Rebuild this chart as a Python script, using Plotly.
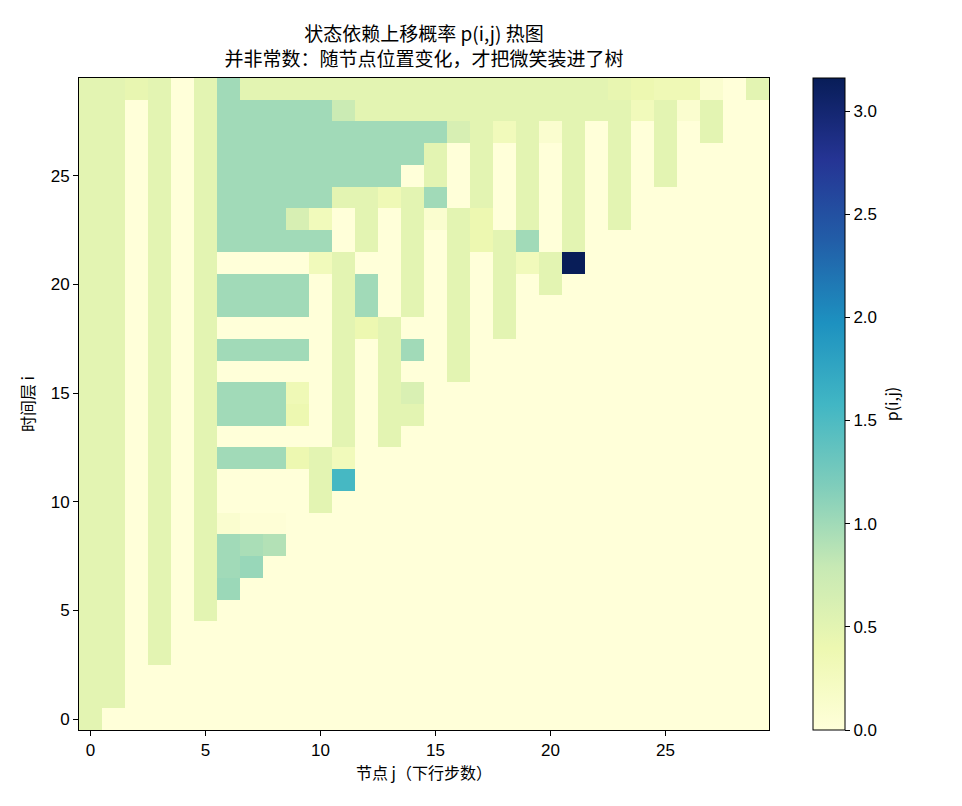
import plotly.graph_objects as go

# column (node j) and row (time layer i) indices
nodes_j = list(range(30))
layers_i = list(range(30))

# p(i,j) values, one list per time layer i (index = node j)
r00 = [.5, 0, 0, 0, 0, 0, 0, 0, 0, 0, 0, 0, 0, 0, 0, 0, 0, 0, 0, 0, 0, 0, 0, 0, 0, 0, 0, 0, 0, 0]
r01 = [.5, .5, 0, 0, 0, 0, 0, 0, 0, 0, 0, 0, 0, 0, 0, 0, 0, 0, 0, 0, 0, 0, 0, 0, 0, 0, 0, 0, 0, 0]
r02 = [.5, .5, 0, 0, 0, 0, 0, 0, 0, 0, 0, 0, 0, 0, 0, 0, 0, 0, 0, 0, 0, 0, 0, 0, 0, 0, 0, 0, 0, 0]
r03 = [.5, .5, 0, .5, 0, 0, 0, 0, 0, 0, 0, 0, 0, 0, 0, 0, 0, 0, 0, 0, 0, 0, 0, 0, 0, 0, 0, 0, 0, 0]
r04 = [.5, .5, 0, .5, 0, 0, 0, 0, 0, 0, 0, 0, 0, 0, 0, 0, 0, 0, 0, 0, 0, 0, 0, 0, 0, 0, 0, 0, 0, 0]
r05 = [.5, .5, 0, .5, 0, .5, 0, 0, 0, 0, 0, 0, 0, 0, 0, 0, 0, 0, 0, 0, 0, 0, 0, 0, 0, 0, 0, 0, 0, 0]
r06 = [.5, .5, 0, .5, 0, .5, 1.03, 0, 0, 0, 0, 0, 0, 0, 0, 0, 0, 0, 0, 0, 0, 0, 0, 0, 0, 0, 0, 0, 0, 0]
r07 = [.5, .5, 0, .5, 0, .5, 1.0, 1.05, 0, 0, 0, 0, 0, 0, 0, 0, 0, 0, 0, 0, 0, 0, 0, 0, 0, 0, 0, 0, 0, 0]
r08 = [.5, .5, 0, .5, 0, .5, 1.0, .95, .9, 0, 0, 0, 0, 0, 0, 0, 0, 0, 0, 0, 0, 0, 0, 0, 0, 0, 0, 0, 0, 0]
r09 = [.5, .5, 0, .5, 0, .5, .1, .03, .03, 0, 0, 0, 0, 0, 0, 0, 0, 0, 0, 0, 0, 0, 0, 0, 0, 0, 0, 0, 0, 0]
r10 = [.5, .5, 0, .5, 0, .5, 0, 0, 0, 0, .5, 0, 0, 0, 0, 0, 0, 0, 0, 0, 0, 0, 0, 0, 0, 0, 0, 0, 0, 0]
r11 = [.5, .5, 0, .5, 0, .5, 0, 0, 0, 0, .5, 1.55, 0, 0, 0, 0, 0, 0, 0, 0, 0, 0, 0, 0, 0, 0, 0, 0, 0, 0]
r12 = [.5, .5, 0, .5, 0, .5, 1, 1, 1, .4, .5, .3, 0, 0, 0, 0, 0, 0, 0, 0, 0, 0, 0, 0, 0, 0, 0, 0, 0, 0]
r13 = [.5, .5, 0, .5, 0, .5, 0, 0, 0, 0, 0, .5, 0, .5, 0, 0, 0, 0, 0, 0, 0, 0, 0, 0, 0, 0, 0, 0, 0, 0]
r14 = [.5, .5, 0, .5, 0, .5, 1, 1, 1, .4, 0, .5, 0, .5, .5, 0, 0, 0, 0, 0, 0, 0, 0, 0, 0, 0, 0, 0, 0, 0]
r15 = [.5, .5, 0, .5, 0, .5, 1, 1, 1, .35, 0, .5, 0, .5, .6, 0, 0, 0, 0, 0, 0, 0, 0, 0, 0, 0, 0, 0, 0, 0]
r16 = [.5, .5, 0, .5, 0, .5, 0, 0, 0, 0, 0, .5, 0, .5, 0, 0, .5, 0, 0, 0, 0, 0, 0, 0, 0, 0, 0, 0, 0, 0]
r17 = [.5, .5, 0, .5, 0, .5, 1, 1, 1, 1, 0, .5, 0, .5, 1, 0, .5, 0, 0, 0, 0, 0, 0, 0, 0, 0, 0, 0, 0, 0]
r18 = [.5, .5, 0, .5, 0, .5, 0, 0, 0, 0, 0, .5, .4, .5, 0, 0, .5, 0, .5, 0, 0, 0, 0, 0, 0, 0, 0, 0, 0, 0]
r19 = [.5, .5, 0, .5, 0, .5, 1, 1, 1, 1, 0, .5, 1, 0, .5, 0, .5, 0, .5, 0, 0, 0, 0, 0, 0, 0, 0, 0, 0, 0]
r20 = [.5, .5, 0, .5, 0, .5, 1, 1, 1, 1, 0, .5, 1, 0, .5, 0, .5, 0, .5, 0, .5, 0, 0, 0, 0, 0, 0, 0, 0, 0]
r21 = [.5, .5, 0, .5, 0, .5, 0, 0, 0, 0, .3, .5, 0, 0, .5, 0, .5, 0, .5, .3, .5, 3.16, 0, 0, 0, 0, 0, 0, 0, 0]
r22 = [.5, .5, 0, .5, 0, .5, 1, 1, 1, 1, 1, 0, .5, 0, .5, 0, .5, .4, .5, 1, 0, .5, 0, 0, 0, 0, 0, 0, 0, 0]
r23 = [.5, .5, 0, .5, 0, .5, 1, 1, 1, .62, .3, 0, .5, 0, .5, .1, .5, .4, 0, .5, 0, .5, 0, .5, 0, 0, 0, 0, 0, 0]
r24 = [.5, .5, 0, .5, 0, .5, 1, 1, 1, 1, 1, .5, .5, .35, .5, 1, 0, .5, 0, .5, 0, .5, 0, .5, 0, 0, 0, 0, 0, 0]
r25 = [.5, .5, 0, .5, 0, .5, 1, 1, 1, 1, 1, 1, 1, 1, 0, .5, 0, .5, 0, .5, 0, .5, 0, .5, 0, .5, 0, 0, 0, 0]
r26 = [.5, .5, 0, .5, 0, .5, 1, 1, 1, 1, 1, 1, 1, 1, 1, .5, 0, .5, 0, .5, 0, .5, 0, .5, 0, .5, 0, 0, 0, 0]
r27 = [.5, .5, 0, .5, 0, .5, 1, 1, 1, 1, 1, 1, 1, 1, 1, 1, .62, .5, .3, .5, .1, .5, 0, .5, 0, .5, 0, .5, 0, 0]
r28 = [.5, .5, 0, .5, 0, .5, 1, 1, 1, 1, 1, .75, .5, .5, .5, .5, .5, .5, .5, .5, .5, .5, .5, .5, .3, .5, .1, .5, 0, 0]
r29 = [.5, .5, .45, .5, 0, .5, 1, .5, .5, .5, .5, .5, .5, .5, .5, .5, .5, .5, .5, .5, .5, .5, .5, .45, .4, .35, .35, .1, 0, .5]

x_ticks = [0, 5, 10, 15, 20, 25]
y_ticks = [0, 5, 10, 15, 20, 25]
cbar_ticks = [0.0, 0.5, 1.0, 1.5, 2.0, 2.5, 3.0]

z = [r00, r01, r02, r03, r04, r05, r06, r07, r08, r09,
     r10, r11, r12, r13, r14, r15, r16, r17, r18, r19,
     r20, r21, r22, r23, r24, r25, r26, r27, r28, r29]

ylgnbu = [
    [0.0, "rgb(255,255,217)"], [0.125, "rgb(237,248,177)"], [0.25, "rgb(199,233,180)"],
    [0.375, "rgb(127,205,187)"], [0.5, "rgb(65,182,196)"], [0.625, "rgb(29,145,192)"],
    [0.75, "rgb(34,94,168)"], [0.875, "rgb(37,52,148)"], [1.0, "rgb(8,29,88)"],
]

FONT = "Noto Sans CJK SC, Liberation Sans, sans-serif"
TICKFONT = "Liberation Sans, Noto Sans CJK SC, sans-serif"

fig = go.Figure(go.Heatmap(
    x=nodes_j, y=layers_i, z=z,
    colorscale=ylgnbu, zmin=0, zmax=max(max(r) for r in z),
    xgap=0, ygap=0,
    colorbar=dict(
        x=(813 - 79) / 690, xanchor="left", xref="paper", xpad=0,
        y=0.5, yanchor="middle", len=1.0, lenmode="fraction", ypad=0,
        thickness=32, thicknessmode="pixels",
        outlinecolor="black", outlinewidth=1,
        tickvals=cbar_ticks, tickformat=".1f",
        ticks="outside", ticklen=5, tickcolor="black",
        tickfont=dict(size=17, color="black", family=TICKFONT),
        title=dict(text="p(i,j)", side="right", font=dict(size=16, color="black", family=FONT)),
    ),
))

fig.update_layout(
    width=962, height=806,
    margin=dict(l=79, r=193, t=78, b=76),
    paper_bgcolor="white", plot_bgcolor="white",
    font=dict(family=FONT, color="black", size=16),
    title=dict(
        text="状态依赖上移概率 p(i,j) 热图<br>并非常数：随节点位置变化，才把微笑装进了树",
        x=0.5, xref="paper", xanchor="center",
        y=1 - 41 / 806, yref="container", yanchor="top",
        font=dict(size=19, family=FONT, color="black"),
    ),
    xaxis=dict(
        range=[-0.5, 29.5], tickvals=x_ticks, ticks="outside", ticklen=5,
        tickcolor="black", showline=True, linecolor="black", linewidth=1,
        mirror=True, showgrid=False, zeroline=False,
        tickfont=dict(size=17, family=TICKFONT),
        title=dict(text="节点 j（下行步数）", font=dict(size=16), standoff=8),
    ),
    yaxis=dict(
        range=[-0.5, 29.5], tickvals=y_ticks, ticks="outside", ticklen=5,
        tickcolor="black", showline=True, linecolor="black", linewidth=1,
        mirror=True, showgrid=False, zeroline=False,
        tickfont=dict(size=17, family=TICKFONT),
        title=dict(text="时间层 i", font=dict(size=16), standoff=12),
    ),
)

fig.write_html("out.html")
